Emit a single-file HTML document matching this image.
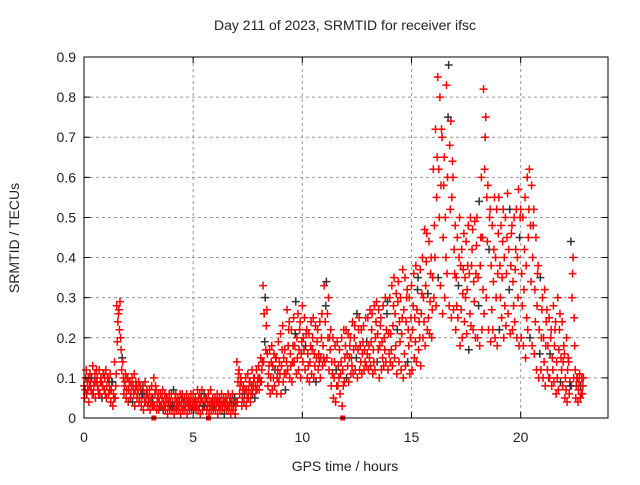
<!DOCTYPE html>
<html><head><meta charset="utf-8"><style>
body{margin:0;background:#fff}
svg text{font-family:"Liberation Sans",sans-serif;font-size:14px;fill:#222}
</style></head><body>
<svg id="chart" width="640" height="480" xmlns="http://www.w3.org/2000/svg">
<rect width="640" height="480" fill="#fff"/>
<text x="345" y="30" text-anchor="middle">Day 211 of 2023, SRMTID for receiver ifsc</text>
<text x="345" y="471" text-anchor="middle">GPS time / hours</text>
<text transform="translate(19,238) rotate(-90)" text-anchor="middle">SRMTID / TECUs</text>
<g id="grid"></g>
<g id="marks"></g>
<g id="axes"></g>
</svg>
<script>
const xTicks=[0,5,10,15,20];
const yTicks=[0,0.1,0.2,0.3,0.4,0.5,0.6,0.7,0.8,0.9];
const yTickLabels=["0","0.1","0.2","0.3","0.4","0.5","0.6","0.7","0.8","0.9"];
const timeStep=0.1;
const v1=[8,12,10,9,13,11,10,12,9,11, 12,10,11,9,14,28,27,17,10,11, 10,9,10,11,8,9,7,8,9,6, 7,8,10,7,6,6,7,6,5,6, 6,7,6,5,6,6,5,6,5,6, 6,5,7,6,7,6,5,6,7,5, 5,6,5,6,5,5,6,5,6,5, 14,12,9,8,10,11,9,12,10,12, 13,15,33,30,16,17,18,16,15,19, 21,23,17,27,24,22,25,29,26,24, 28,25,22,21,24,25,23,22,24,26, 33,34,30,22,20,18,19,17,20,22, 22,21,20,24,23,26,25,22,23,25, 25,27,26,28,29,27,25,28,30,29, 30,33,35,31,34,30,37,35,32,30, 33,36,38,35,37,40,47,46,44,40, 62,72,85,80,70,65,83,88,74,60, 48,45,50,42,46,44,48,50,47,49, 50,54,60,82,75,58,52,48,55,52, 55,48,52,50,56,52,48,50,52,57, 52,50,55,60,62,58,52,45,38,35, 30,32,27,25,22,28,24,30,26,24, 16,20,14,44,40,12,10,11,10];
const v2=[5,6,4,7,6,5,8,6,5,7, 5,6,4,3,5,19,22,12,6,5, 4,5,4,3,5,4,3,2,4,3, 2,3,3,2,2,3,2,2,1,2, 2,1,2,2,1,2,2,1,2,2, 2,2,2,1,2,3,2,1,2,2, 2,1,2,2,1,2,2,1,2,1, 4,6,3,4,3,5,4,6,5,7, 7,9,14,17,8,6,7,8,6,9, 6,9,7,12,10,9,14,11,12,10, 14,12,10,9,11,10,9,12,10,13, 14,15,12,8,5,4,8,6,3,9, 10,9,11,11,12,10,12,11,12,13, 12,13,11,12,14,10,12,13,14,12, 14,13,15,11,14,12,10,13,14,11, 12,15,14,17,13,20,18,22,21,20, 30,28,35,33,26,30,36,28,25,27, 22,25,18,20,24,21,17,23,22,20, 20,18,22,26,30,22,19,22,20,18, 22,25,20,23,26,21,22,24,20,18, 20,18,15,22,20,18,16,12,10,12, 10,8,12,10,8,9,6,7,9,8, 5,4,6,8,10,5,4,5,6];
const v3=[7,9,8,10,8,9,7,9,8,10, 8,9,7,6,8,24,29,15,8,7, 7,6,8,7,6,5,5,6,6,4, 4,5,6,4,4,3,4,4,3,4, 4,3,4,3,3,4,3,4,3,4, 4,3,5,4,4,4,3,3,4,3, 3,4,3,3,3,4,3,3,3,3, 9,8,5,6,7,7,6,8,8,9, 10,12,26,23,11,10,13,12,10,14, 13,15,11,18,16,14,18,20,17,16, 20,18,16,14,17,16,15,16,15,18, 24,26,20,14,10,12,13,11,12,15, 16,15,15,17,18,17,18,16,17,19, 18,19,17,20,21,18,19,20,22,21, 21,23,26,22,24,21,27,24,22,20, 22,25,27,24,26,30,33,31,29,27, 48,55,62,58,45,50,60,68,55,42, 35,33,38,31,35,32,36,38,34,36, 35,38,45,62,55,42,38,34,40,36, 38,35,40,36,42,38,34,37,40,45, 36,32,38,45,48,40,32,28,22,20, 20,18,18,16,15,18,14,17,15,14, 10,12,9,30,25,8,7,8,8];
const v4=[10,7,11,6,9,12,6,10,11,6, 10,7,9,5,11,26,20,14,9,10, 9,8,6,9,7,8,6,4,7,5, 5,3,8,5,3,5,3,5,4,3, 3,5,3,4,5,3,4,3,4,3, 3,4,3,5,3,5,4,4,3,4, 4,3,4,4,4,3,4,4,4,4, 11,10,7,7,5,9,8,10,7,10, 9,14,19,27,13,14,10,15,12,11, 17,11,14,22,13,18,21,15,22,19, 17,21,13,18,20,13,19,14,20,15, 28,20,17,11,14,8,10,14,8,18, 13,18,13,20,15,22,14,19,14,16, 15,22,14,24,17,23,15,17,26,16, 17,28,18,29,19,25,16,30,18,25, 28,19,32,20,31,24,39,25,36,35, 40,65,50,72,58,40,75,52,64,36, 28,40,27,37,30,38,26,42,29,43, 28,45,32,70,44,50,27,42,30,46, 30,44,28,45,32,46,28,42,30,50, 28,42,25,52,34,48,24,36,16,27, 14,24,10,20,12,22,10,22,12,18, 7,15,8,36,18,10,9,6,10];
const zeroMarkers=[3.2,5.7,11.85];

const L=84,R=608,T=57,B=418,XMAX=24,YMAX=0.9;
const xs=t=>L+(t/XMAX)*(R-L);
const ys=v=>B-(v/YMAX)*(B-T);
const NS="http://www.w3.org/2000/svg";
function mk(tag,attrs,parent){const e=document.createElementNS(NS,tag);for(const k in attrs)e.setAttribute(k,attrs[k]);parent.appendChild(e);return e;}
const grid=document.getElementById('grid'),marks=document.getElementById('marks'),axes=document.getElementById('axes');
xTicks.forEach((t,i)=>{
  if(t>0){const g=mk('line',{x1:xs(t),x2:xs(t),y1:T,y2:B,stroke:'#999','stroke-dasharray':'3,3'},grid);
  
  }
  const tk=mk('path',{d:`M${xs(t)},${B}v-6M${xs(t)},${T}v6`,stroke:'#000'},axes);
  
  
  const lb=mk('text',{x:xs(t),y:B+24,'text-anchor':'middle'},axes);lb.textContent=String(t);
  
  
});
yTicks.forEach((v,i)=>{
  if(v>0&&v<YMAX){const g=mk('line',{x1:L,x2:R,y1:ys(v),y2:ys(v),stroke:'#999','stroke-dasharray':'3,3'},grid);
  
  }
  const tk=mk('path',{d:`M${L},${ys(v)}h6M${R},${ys(v)}h-6`,stroke:'#000'},axes);
  
  
  const lb=mk('text',{x:L-8,y:ys(v)+5,'text-anchor':'end'},axes);lb.textContent=yTickLabels[i];
  
  
});
const border=mk('rect',{x:L,y:T,width:R-L,height:B-T,fill:'none',stroke:'#000'},axes);


let n=0;
[v1,v2,v3,v4].forEach((arr,si)=>{
  arr.forEach((val,i)=>{
    const t=i*timeStep+si*0.025;
    const x=xs(t),y=ys(val/100);
    n++;
    const col=(n%14===0)?'#333':'#f00';
    const p=mk('path',{d:`M${x-4},${y}h8M${x},${y-4}v8`,stroke:col,'stroke-width':1.5},marks);
    
    
  });
});
zeroMarkers.forEach(t=>{
  const r=mk('rect',{x:xs(t)-2.5,y:B-2.5,width:5,height:5,fill:'#f00'},marks);
  
  
});
</script>
</body></html>
